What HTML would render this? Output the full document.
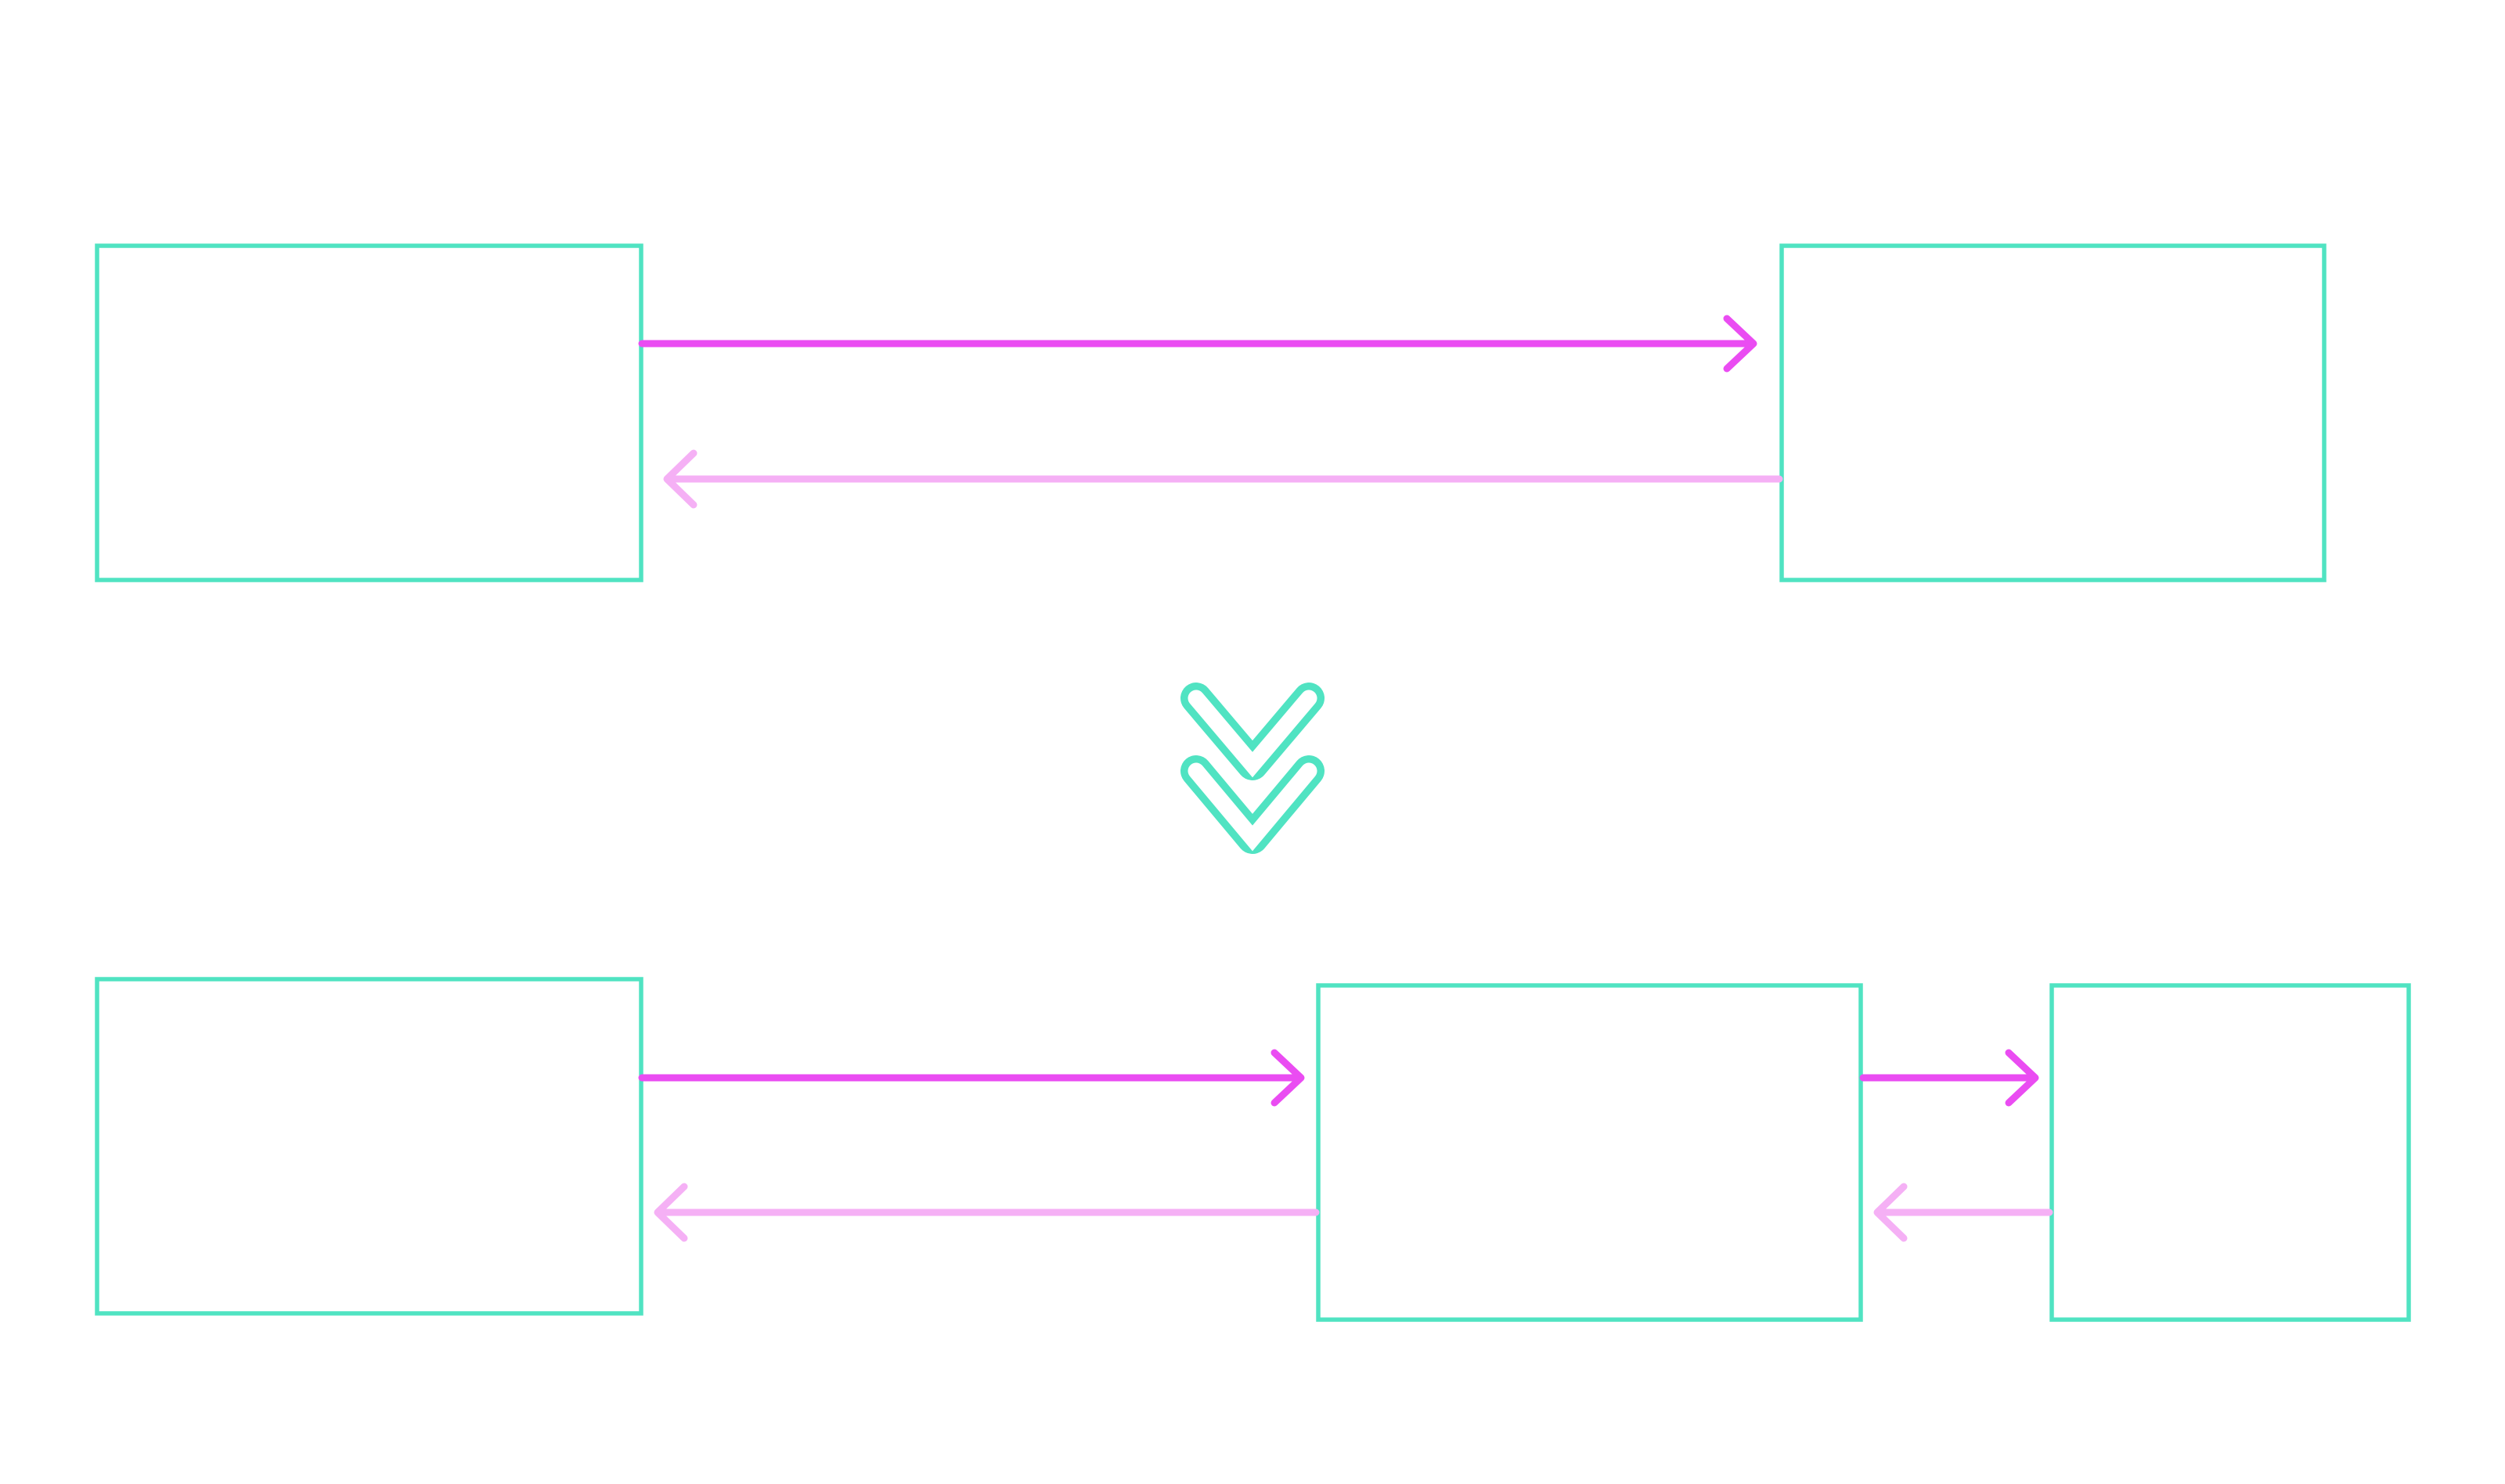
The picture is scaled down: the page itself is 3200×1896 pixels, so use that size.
<html><body style="margin:0;background:#fff">
<svg width="3200" height="1896" viewBox="0 0 3200 1896" xmlns="http://www.w3.org/2000/svg">
<g fill="none" stroke="#50e3c2" stroke-width="5.5">
<rect x="124" y="314" width="695" height="427"/>
<rect x="2276" y="314" width="693" height="427"/>
<rect x="124" y="1251" width="695" height="427"/>
<rect x="1684" y="1259" width="693" height="427"/>
<rect x="2621" y="1259" width="456" height="427"/>
</g>
<g fill="none" stroke-width="9" stroke-linecap="round" stroke-linejoin="round">
<g stroke="#ea4cf2">
<path d="M820 439 H2238 M2206 407 L2240 439 L2206 471"/>
<path d="M820 1377 H1660 M1628 1345 L1662 1377 L1628 1409"/>
<path d="M2380 1377 H2598 M2566 1345 L2600 1377 L2566 1409"/>
</g>
<g stroke="#f5b0f5">
<path d="M2273 612 H854 M886 579 L852 612 L886 645"/>
<path d="M1681 1549 H842 M874 1516 L840 1549 L874 1582"/>
<path d="M2618 1549 H2400 M2432 1516 L2398 1549 L2432 1582"/>
</g>
</g>
<g fill="none" stroke-linecap="round" stroke-linejoin="round">
<path d="M1528 985 L1600 1071 L1672 985" stroke="#50e3c2" stroke-width="40"/>
<path d="M1528 985 L1600 1071 L1672 985" stroke="#fff" stroke-width="21" stroke-linejoin="miter"/>
<path d="M1528 892 L1600 977 L1672 892" stroke="#50e3c2" stroke-width="40"/>
<path d="M1528 892 L1600 977 L1672 892" stroke="#fff" stroke-width="21" stroke-linejoin="miter"/>
</g>
</svg>
</body></html>
